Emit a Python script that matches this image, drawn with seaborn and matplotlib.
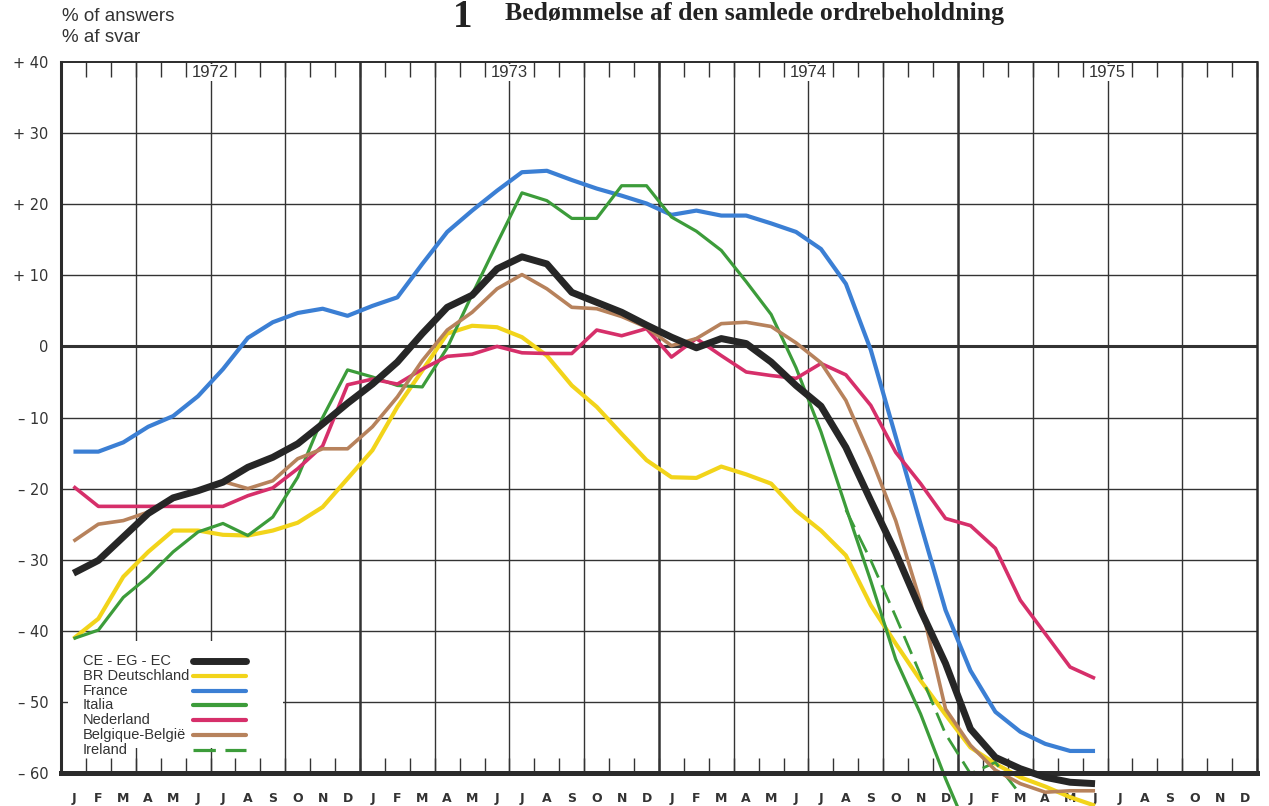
import numpy as np
import matplotlib
matplotlib.use('Agg')
import matplotlib.pyplot as plt
import seaborn as sns
from matplotlib.patches import Rectangle
from matplotlib.lines import Line2D

# month index 0 = January 1972, points sit in the middle of each month
month_letters = list('JFMAMJJASOND') * 4
years = ['1972', '1973', '1974', '1975']
y_ticks = [40, 30, 20, 10, 0, -10, -20, -30, -40, -50, -60]
y_labels = ['+ 40', '+ 30', '+ 20', '+ 10', '0', '– 10', '– 20', '– 30', '– 40', '– 50', '– 60']

# Jan 1972 .. Jun 1975
ce = [-31.9, -30.1, -26.8, -23.5, -21.3, -20.3, -19.1, -17.0, -15.6, -13.7, -10.9, -8.0,
      -5.3, -2.2, 1.8, 5.5, 7.2, 10.9, 12.6, 11.6, 7.6, 6.2, 4.8, 3.0,
      1.3, -0.2, 1.1, 0.4, -2.2, -5.5, -8.4, -14.2, -21.7, -29.0, -37.1, -44.6,
      -53.8, -57.8, -59.4, -60.6, -61.3, -61.5]
deutschland = [-41.1, -38.3, -32.4, -28.9, -25.9, -25.9, -26.5, -26.6, -25.9, -24.8, -22.6, -18.6,
               -14.6, -8.5, -3.4, 1.8, 2.9, 2.7, 1.3, -1.3, -5.5, -8.5, -12.3, -16.0,
               -18.4, -18.5, -16.9, -18.0, -19.3, -23.1, -25.9, -29.4, -36.4, -41.8, -47.0, -51.8,
               -56.4, -58.7, -60.6, -61.9, -63.4, -64.6]
france = [-14.8, -14.8, -13.5, -11.3, -9.8, -7.0, -3.2, 1.2, 3.4, 4.7, 5.3, 4.3,
          5.7, 6.9, 11.6, 16.1, 19.1, 21.9, 24.5, 24.7, 23.4, 22.2, 21.2, 20.1,
          18.5, 19.1, 18.4, 18.4, 17.3, 16.1, 13.7, 8.8, -0.5, -12.7, -25.0, -37.1,
          -45.6, -51.4, -54.2, -55.9, -56.9, -56.9]
italia = [-41.1, -39.9, -35.3, -32.4, -28.9, -26.1, -24.9, -26.6, -24.0, -18.4, -10.0, -3.3,
          -4.3, -5.5, -5.7, -0.2, 7.3, 14.5, 21.6, 20.5, 18.0, 18.0, 22.6, 22.6,
          18.2, 16.2, 13.5, 9.1, 4.5, -3.0, -12.0, -22.6, -33.0, -44.0, -51.7, -60.8,
          -69.0]
nederland = [-19.7, -22.5, -22.5, -22.5, -22.5, -22.5, -22.5, -21.0, -19.9, -17.2, -14.0, -5.4,
             -4.6, -5.3, -3.2, -1.4, -1.1, 0.0, -0.9, -1.0, -1.0, 2.3, 1.5, 2.5,
             -1.5, 1.1, -1.3, -3.6, -4.1, -4.5, -2.4, -4.0, -8.3, -14.9, -19.3, -24.2,
             -25.2, -28.4, -35.7, -40.4, -45.1, -46.7]
belgique = [-27.4, -25.0, -24.5, -23.3, -21.5, -20.3, -19.0, -20.0, -18.9, -15.8, -14.4, -14.4,
            -11.3, -7.1, -2.0, 2.3, 4.8, 8.1, 10.1, 8.1, 5.5, 5.3, 4.2, 2.7,
            0.1, 1.1, 3.2, 3.4, 2.8, 0.5, -2.3, -7.6, -15.6, -24.5, -36.0, -51.0,
            -56.1, -59.6, -61.5, -62.7, -62.5, -62.5]
# Ireland only from Aug 1974 to Mar 1975
ireland = [-23.0, -30.1, -38.0, -46.2, -54.5, -60.1, -58.5, -63.0]
ireland_start = 31

names = ['CE - EG - EC', 'BR Deutschland', 'France', 'Italia', 'Nederland', 'Belgique-België', 'Ireland']
colors = ['#262626', '#f2d41a', '#3b7fd4', '#3c9c3a', '#d62f6a', '#b7825c', '#3c9c3a']

fig = plt.figure(figsize=(12.69, 8.06), dpi=100)
ax = fig.add_axes([61 / 1269, 33 / 806, 1196 / 1269, 711 / 806])
sns.set_style('white')
plt.rcParams['font.family'] = ['Liberation Sans', 'DejaVu Sans']

ax.set_xlim(0, 48)
ax.set_ylim(-60, 40)

# grid
grid_col = '#333333'
for v in range(-50, 40, 10):
    ax.axhline(v, color=grid_col, lw=2.2 if v == 0 else 1.0, zorder=1)
for q in range(3, 48, 3):
    ax.axvline(q, color=grid_col, lw=1.8 if q % 12 == 0 else 1.0, zorder=1)

# series (black last so it sits on top)
order = [1, 2, 3, 4, 5, 0]
data = [ce, deutschland, france, italia, nederland, belgique]
widths = [5.0, 3.0, 3.0, 2.3, 2.6, 2.6]
for k in order:
    vals = data[k]
    x = np.arange(len(vals)) + 0.5
    sns.lineplot(x=x, y=vals, color=colors[k], lw=widths[k], ax=ax,
                 estimator=None, sort=False, clip_on=False, zorder=4 + k * 0.1 if k else 6,
                 solid_joinstyle='round', solid_capstyle='butt')
xi = np.arange(ireland_start, ireland_start + len(ireland)) + 0.5
sns.lineplot(x=xi, y=ireland, color=colors[6], lw=2.0, ax=ax, estimator=None,
             sort=False, clip_on=False, zorder=4.2, linestyle=(0, (7, 3)))

# axes styling
ax.set_xticks(np.arange(48) + 0.5)
ax.set_xticklabels(month_letters, fontsize=9, fontweight='bold', color='#333333')
ax.set_xticks(np.arange(0, 49), minor=True)
ax.tick_params(axis='x', which='major', length=0, pad=14)
ax.tick_params(axis='x', which='minor', direction='in', length=11, width=1.0,
               color=grid_col, top=True, bottom=True)
ax.set_yticks(y_ticks)
ax.set_yticklabels(y_labels, fontsize=10.5, color='#333333')
ax.tick_params(axis='y', length=0, pad=9)
ax.set_xlabel('')
ax.set_ylabel('')
for side, w in [('bottom', 3.6), ('left', 2.2), ('right', 1.8), ('top', 1.4)]:
    ax.spines[side].set_visible(True)
    ax.spines[side].set_linewidth(w)
    ax.spines[side].set_color('#2b2b2b')
    ax.spines[side].set_zorder(5)

# year labels at the top, centred on July
for j, yr in enumerate(years):
    ax.text(6 + 12 * j, 38.5, yr, ha='center', va='center', fontsize=12, color='#333333',
            bbox=dict(fc='white', ec='none', pad=0.8), zorder=2)

# legend: label first, sample line after it
ax.add_patch(Rectangle((0.006, 0.035), 0.18, 0.15, transform=ax.transAxes,
                       fc='white', ec='none', zorder=2.5))
leg_y = [0.158, 0.137, 0.116, 0.096, 0.075, 0.054, 0.033]
leg_w = [5.0, 3.0, 3.0, 3.0, 3.0, 3.0, 2.3]
for k in range(7):
    ax.text(0.0184, leg_y[k], names[k], transform=ax.transAxes, fontsize=10.5,
            color='#333333', va='center', ha='left', zorder=3)
    ax.add_line(Line2D([0.1105, 0.1547], [leg_y[k], leg_y[k]], transform=ax.transAxes,
                       color=colors[k], lw=leg_w[k], zorder=3,
                       linestyle=(0, (7, 3)) if k == 6 else '-'))

# header texts
fig.text(62 / 1269, 1 - 21 / 806, '% of answers', fontsize=13.5, color='#333333', va='baseline')
fig.text(62 / 1269, 1 - 42 / 806, '% af svar', fontsize=13.5, color='#333333', va='baseline')
fig.text(453 / 1269, 1 - 27 / 806, '1', fontsize=28, fontweight='bold', va='baseline',
         family='Liberation Serif', color='#222222')
fig.text(505 / 1269, 1 - 20 / 806, 'Bedømmelse af den samlede ordrebeholdning', fontsize=18.5,
         fontweight='bold', va='baseline', family='Liberation Serif', color='#222222')

fig.savefig('out.png', dpi=100, facecolor='white')
